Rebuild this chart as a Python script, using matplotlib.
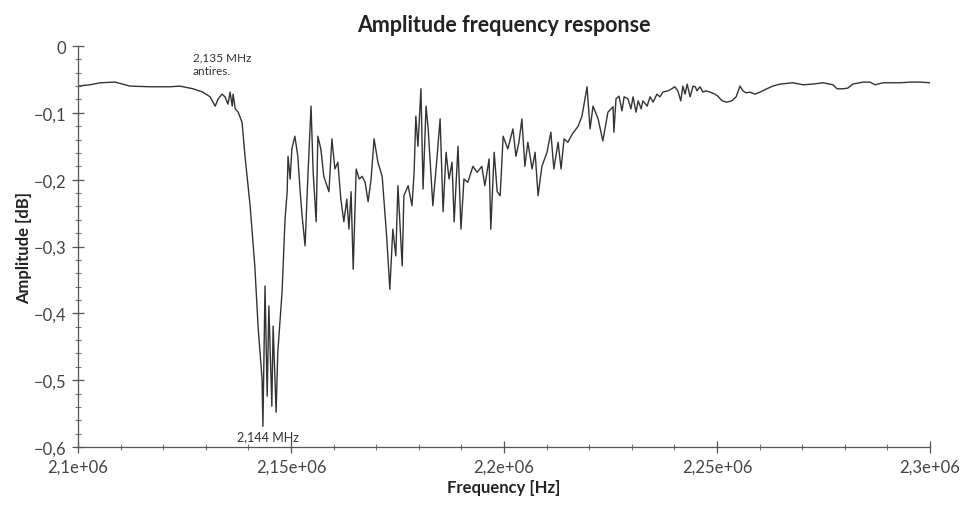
import matplotlib
matplotlib.use("Agg")
import matplotlib.pyplot as plt
from matplotlib.ticker import FixedLocator, MultipleLocator, FixedFormatter

# Frequency in kHz, amplitude in dB
freq_khz = [
    2100.0, 2102.8, 2105.2, 2108.7, 2112.2, 2116.9, 2121.6, 2123.9, 2127.0, 2129.3,
    2131.0, 2132.2, 2132.9, 2133.8, 2134.5, 2135.2, 2135.7, 2136.2, 2136.4, 2136.9,
    2137.6, 2138.5, 2139.2, 2140.4, 2141.5, 2142.3, 2143.2, 2143.4, 2143.9, 2144.4,
    2144.8, 2145.5, 2145.8, 2146.5, 2146.9, 2147.9, 2148.6, 2149.1, 2149.3, 2149.8,
    2150.2, 2150.9, 2151.6, 2152.1, 2152.6, 2153.3, 2154.0, 2154.7, 2155.2, 2155.9,
    2156.3, 2157.0, 2157.7, 2158.9, 2159.6, 2160.3, 2161.0, 2161.7, 2162.4, 2163.1,
    2163.6, 2164.1, 2164.6, 2165.3, 2166.0, 2166.7, 2167.4, 2168.1, 2168.8, 2169.5,
    2170.4, 2171.4, 2171.8, 2172.5, 2173.2, 2173.9, 2174.6, 2175.1, 2176.1, 2176.5,
    2177.5, 2178.4, 2178.9, 2179.3, 2179.8, 2180.5, 2181.0, 2181.7, 2182.2, 2183.3,
    2184.3, 2185.0, 2185.7, 2186.4, 2187.1, 2187.8, 2188.3, 2189.2, 2189.9, 2190.6,
    2191.5, 2192.7, 2193.7, 2194.8, 2195.5, 2196.5, 2196.9, 2197.7, 2198.4, 2199.1,
    2199.8, 2200.9, 2202.1, 2202.8, 2203.5, 2204.2, 2204.9, 2205.6, 2206.6, 2207.3,
    2208.0, 2208.9, 2210.1, 2211.0, 2211.7, 2212.7, 2213.4, 2214.1, 2215.0, 2216.0,
    2217.4, 2218.3, 2219.5, 2220.2, 2220.9, 2222.1, 2223.2, 2224.4, 2225.6, 2225.8,
    2226.3, 2227.0, 2227.7, 2228.2, 2229.1, 2229.8, 2230.3, 2231.0, 2231.5, 2232.2,
    2232.6, 2233.6, 2234.3, 2235.0, 2235.9, 2236.6, 2237.3, 2238.5, 2239.4, 2240.1,
    2240.8, 2241.5, 2242.0, 2242.5, 2243.0, 2243.7, 2244.4, 2244.9, 2245.3, 2246.0,
    2246.7, 2247.4, 2248.4, 2249.5, 2250.2, 2251.2, 2252.3, 2253.5, 2254.5, 2254.9,
    2255.4, 2256.1, 2256.8, 2257.7, 2258.9, 2260.1, 2261.7, 2263.1, 2264.8, 2267.8,
    2270.2, 2272.5, 2274.9, 2277.2, 2278.2, 2279.6, 2280.7, 2281.9, 2284.3, 2285.9,
    2287.1, 2289.0, 2293.0, 2295.3, 2297.7, 2300.0,
]
amplitude_db = [
    -0.060, -0.058, -0.055, -0.054, -0.060, -0.061, -0.061, -0.060, -0.064, -0.069,
    -0.076, -0.090, -0.079, -0.072, -0.076, -0.087, -0.069, -0.090, -0.072, -0.094,
    -0.099, -0.114, -0.165, -0.239, -0.329, -0.423, -0.498, -0.569, -0.359, -0.524,
    -0.389, -0.539, -0.419, -0.548, -0.458, -0.368, -0.259, -0.218, -0.165, -0.199,
    -0.154, -0.135, -0.165, -0.214, -0.254, -0.299, -0.189, -0.090, -0.189, -0.263,
    -0.135, -0.154, -0.195, -0.218, -0.139, -0.184, -0.174, -0.229, -0.263, -0.229,
    -0.274, -0.218, -0.334, -0.184, -0.199, -0.195, -0.204, -0.233, -0.199, -0.139,
    -0.174, -0.195, -0.229, -0.289, -0.364, -0.274, -0.314, -0.209, -0.329, -0.224,
    -0.209, -0.239, -0.189, -0.105, -0.150, -0.064, -0.214, -0.090, -0.124, -0.239,
    -0.165, -0.109, -0.248, -0.159, -0.199, -0.174, -0.263, -0.150, -0.274, -0.199,
    -0.204, -0.180, -0.189, -0.180, -0.209, -0.169, -0.274, -0.159, -0.218, -0.224,
    -0.135, -0.154, -0.124, -0.165, -0.144, -0.109, -0.180, -0.144, -0.184, -0.159,
    -0.224, -0.180, -0.159, -0.129, -0.184, -0.144, -0.184, -0.139, -0.144, -0.132,
    -0.120, -0.105, -0.061, -0.124, -0.090, -0.109, -0.142, -0.099, -0.091, -0.129,
    -0.079, -0.075, -0.097, -0.076, -0.079, -0.094, -0.076, -0.099, -0.082, -0.094,
    -0.082, -0.090, -0.076, -0.084, -0.072, -0.076, -0.069, -0.067, -0.064, -0.061,
    -0.067, -0.082, -0.060, -0.072, -0.057, -0.076, -0.060, -0.061, -0.067, -0.061,
    -0.069, -0.067, -0.069, -0.072, -0.075, -0.082, -0.084, -0.082, -0.076, -0.069,
    -0.060, -0.067, -0.070, -0.069, -0.072, -0.069, -0.064, -0.060, -0.057, -0.055,
    -0.058, -0.057, -0.055, -0.058, -0.064, -0.064, -0.063, -0.057, -0.054, -0.054,
    -0.058, -0.055, -0.055, -0.054, -0.054, -0.055,
]

x_ticks = [2.10e6, 2.15e6, 2.20e6, 2.25e6, 2.30e6]
x_tick_labels = ["2,1e+06", "2,15e+06", "2,2e+06", "2,25e+06", "2,3e+06"]
y_ticks = [0, -0.1, -0.2, -0.3, -0.4, -0.5, -0.6]
y_tick_labels = ["0", "\u22120,1", "\u22120,2", "\u22120,3", "\u22120,4", "\u22120,5", "\u22120,6"]

title = "Amplitude frequency response"
x_label = "Frequency [Hz]"
y_label = "Amplitude [dB]"
ann_min_text = "2,144 MHz"
ann_min_pos = (2144.6e3, -0.584)
ann_antires_text = "2,135 MHz\nantires."
ann_antires_pos = (2127.0e3, -0.027)

plt.rcParams['font.family'] = ['Lato', 'DejaVu Sans']

fig = plt.figure(figsize=(9.61, 5.06), dpi=100)
ax = fig.add_axes([0.0812, 0.1146, 0.8865, 0.7925])

freq_hz = [f * 1e3 for f in freq_khz]
ax.plot(freq_hz, amplitude_db, color="#333333", linewidth=1.0)

ax.set_xlim(2.1e6, 2.3e6)
ax.set_ylim(-0.6, 0.0)

ax.xaxis.set_major_locator(FixedLocator(x_ticks))
ax.xaxis.set_major_formatter(FixedFormatter(x_tick_labels))
ax.xaxis.set_minor_locator(MultipleLocator(10000))
ax.yaxis.set_major_locator(FixedLocator(y_ticks))
ax.yaxis.set_major_formatter(FixedFormatter(y_tick_labels))
ax.yaxis.set_minor_locator(MultipleLocator(0.02))

for s in ("top", "right"):
    ax.spines[s].set_visible(False)
for s in ("left", "bottom"):
    ax.spines[s].set_color("#555555")
    ax.spines[s].set_linewidth(0.9)

ax.tick_params(axis="both", which="major", direction="inout", length=9, width=0.9,
               colors="#555555", labelcolor="#444444", labelsize=12, pad=4)
ax.tick_params(axis="both", which="minor", direction="inout", length=5, width=0.8,
               colors="#777777")

ax.set_title(title, fontsize=15.5, fontweight="bold", color="#222222", pad=11)
ax.set_xlabel(x_label, fontsize=12, fontweight="bold", color="#222222", labelpad=3)
ax.set_ylabel(y_label, fontsize=12, fontweight="bold", color="#222222", labelpad=1)

ax.text(ann_min_pos[0], ann_min_pos[1], ann_min_text, ha="center", va="center",
        fontsize=9, color="#333333")
ax.text(ann_antires_pos[0], ann_antires_pos[1], ann_antires_text, ha="left", va="center",
        fontsize=8.5, color="#333333", linespacing=1.3)

fig.savefig("out.png", dpi=100)
